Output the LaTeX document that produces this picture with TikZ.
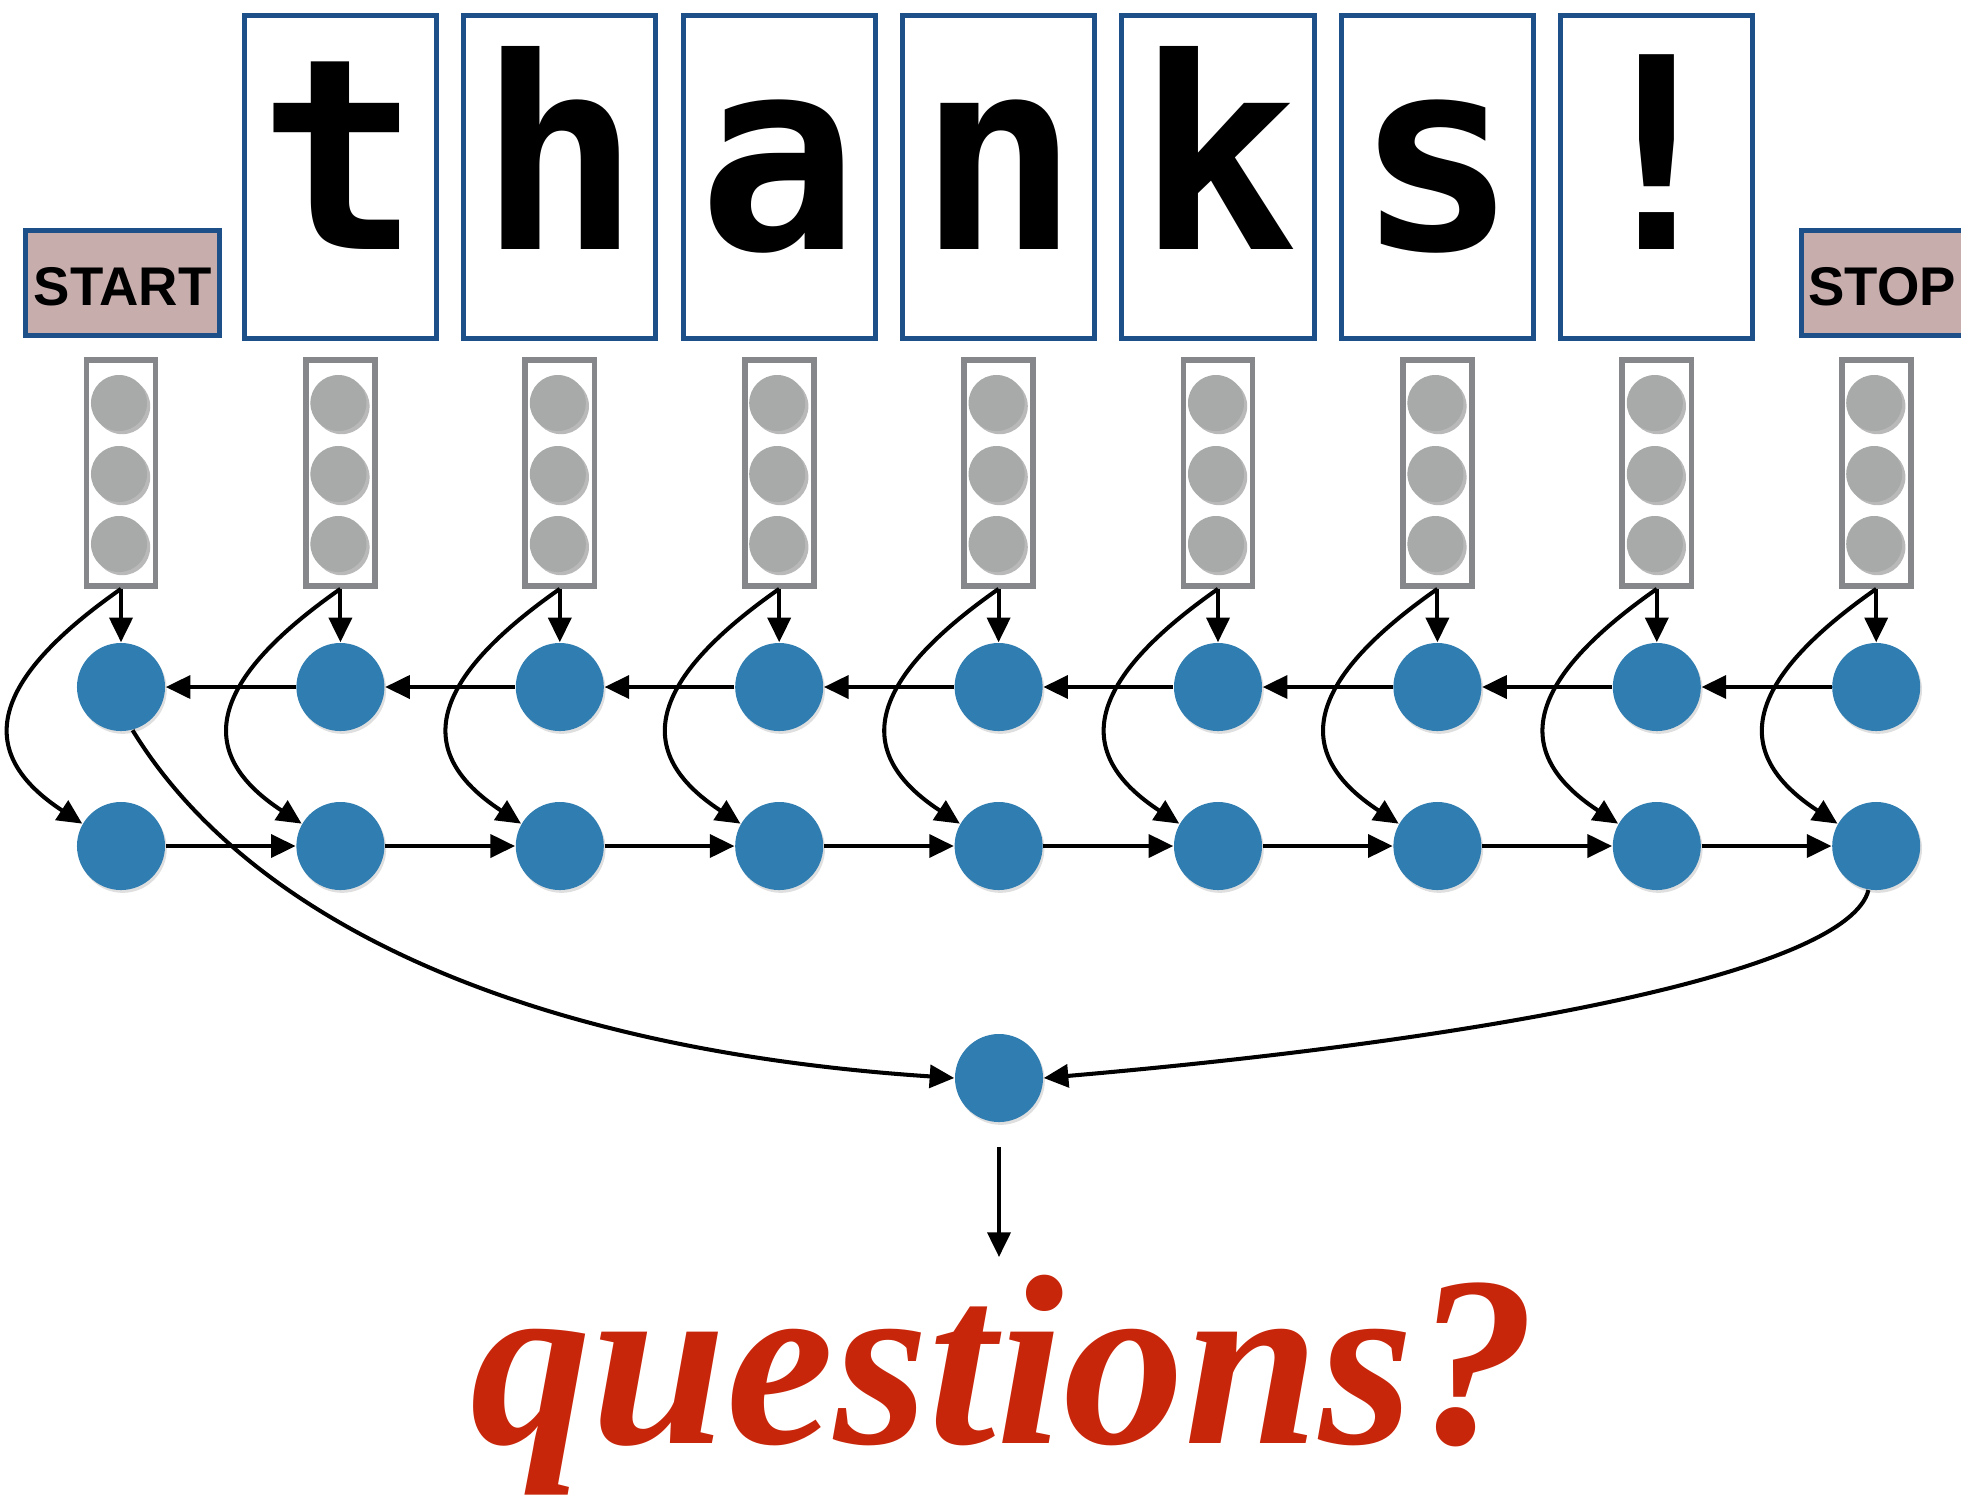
\documentclass[tikz,border=0pt]{standalone}
\usepackage{fontspec}
\usetikzlibrary{arrows.meta,shadows}
\newfontfamily\lettfont{DejaVu Sans Mono}
\newfontfamily\labfont{Liberation Sans}
\newfontfamily\qfont{Liberation Serif}
\definecolor{boxblue}{RGB}{29,80,137}
\definecolor{startfill}{RGB}{200,173,173}
\definecolor{nodeblue}{RGB}{47,125,177}
\definecolor{dotgray}{RGB}{167,170,168}
\definecolor{vecgray}{RGB}{133,135,139}
\definecolor{qred}{RGB}{200,38,10}
\begin{document}
\begin{tikzpicture}[x=0.01cm,y=-0.01cm,
  letterbox/.style={draw=boxblue, line width=1.42pt, fill=white, minimum width=1.92cm, minimum height=3.22cm, inner sep=0pt},
  lettertext/.style={inner sep=0pt, font=\lettfont\bfseries\fontsize{76}{76}\selectfont},
  tagbox/.style={draw=boxblue, line width=1.42pt, fill=startfill, minimum height=1.05cm, inner sep=0pt},
  tagtext/.style={inner sep=0pt, font=\labfont\bfseries\fontsize{15.5}{15.5}\selectfont},
  vecbox/.style={draw=vecgray, line width=1.6pt, fill=white, minimum width=0.69cm, minimum height=2.26cm, inner sep=0pt},
  dot/.style={circle, fill=dotgray, minimum size=0.56cm, inner sep=0pt, drop shadow={opacity=0.55, shadow xshift=0.9pt, shadow yshift=-0.9pt}},
  unit/.style={circle, fill=nodeblue, minimum size=0.88cm, inner sep=0pt, drop shadow={opacity=0.25, shadow xshift=0.5pt, shadow yshift=-0.8pt}},
  arr/.style={line width=1.15pt, -{Triangle[length=7pt,width=6.5pt]}},
  qtext/.style={inner sep=0pt, text=qred, font=\qfont\bfseries\itshape\fontsize{69}{69}\selectfont}
]
\useasboundingbox (0,0) rectangle (1961,1496);

% START / STOP
\node[tagbox, minimum width=1.94cm] (startbox) at (122.5,283) {};
\node[tagtext] (starttext) at (122.5,287) {START};
\node[tagbox, minimum width=1.90cm] (stopbox) at (1896.5,283) {};
\node[tagtext] (stoptext) at (1882,287) {STOP};

% letter boxes
\foreach \i/\ch in {1/t,2/h,3/a,4/n,5/k,6/s,7/!}{
  \pgfmathsetmacro\cx{121+219.4*\i}
  \node[letterbox] (L\i) at (\cx,177) {};
  \node[lettertext, anchor=base] (T\i) at (\cx,249) {\ch};
}

% columns
\foreach \i in {0,...,8}{
  \pgfmathsetmacro\cx{121+219.4*\i}
  \node[vecbox] (v\i) at (\cx,473) {};
  \foreach \yy/\k in {403/1,474/2,544/3}{
    \node[dot] (d\i-\k) at (\cx-2,\yy) {};
  }
  \node[unit] (a\i) at (\cx,687) {};
  \node[unit] (b\i) at (\cx,846) {};
}
\node[unit] (fin) at (999,1078) {};

% arrows
\foreach \i in {0,...,8}{
  \draw[arr] (v\i.south) -- (a\i.north);
  \draw[arr] (v\i.south) .. controls +(-130,91) and +(-110,-72) .. (b\i.150);
}
\foreach \i [evaluate=\i as \j using int(\i+1)] in {0,...,7}{
  \draw[arr] (a\j.west) -- (a\i.east);
  \draw[arr] (b\i.east) -- (b\j.west);
}
\draw[arr] (a0.-75) .. controls +(110,180) and +(-450,-30) .. (fin.west);
\draw[arr] (b8.-100) .. controls +(-20,80) and +(460,-40) .. (fin.east);

\coordinate (qtip) at (999,1257);
\draw[arr, shorten <=0.24cm] (fin.south) -- (qtip);

\node[qtext, anchor=base] (q) at (1003,1443) {questions?};
\end{tikzpicture}
\end{document}
